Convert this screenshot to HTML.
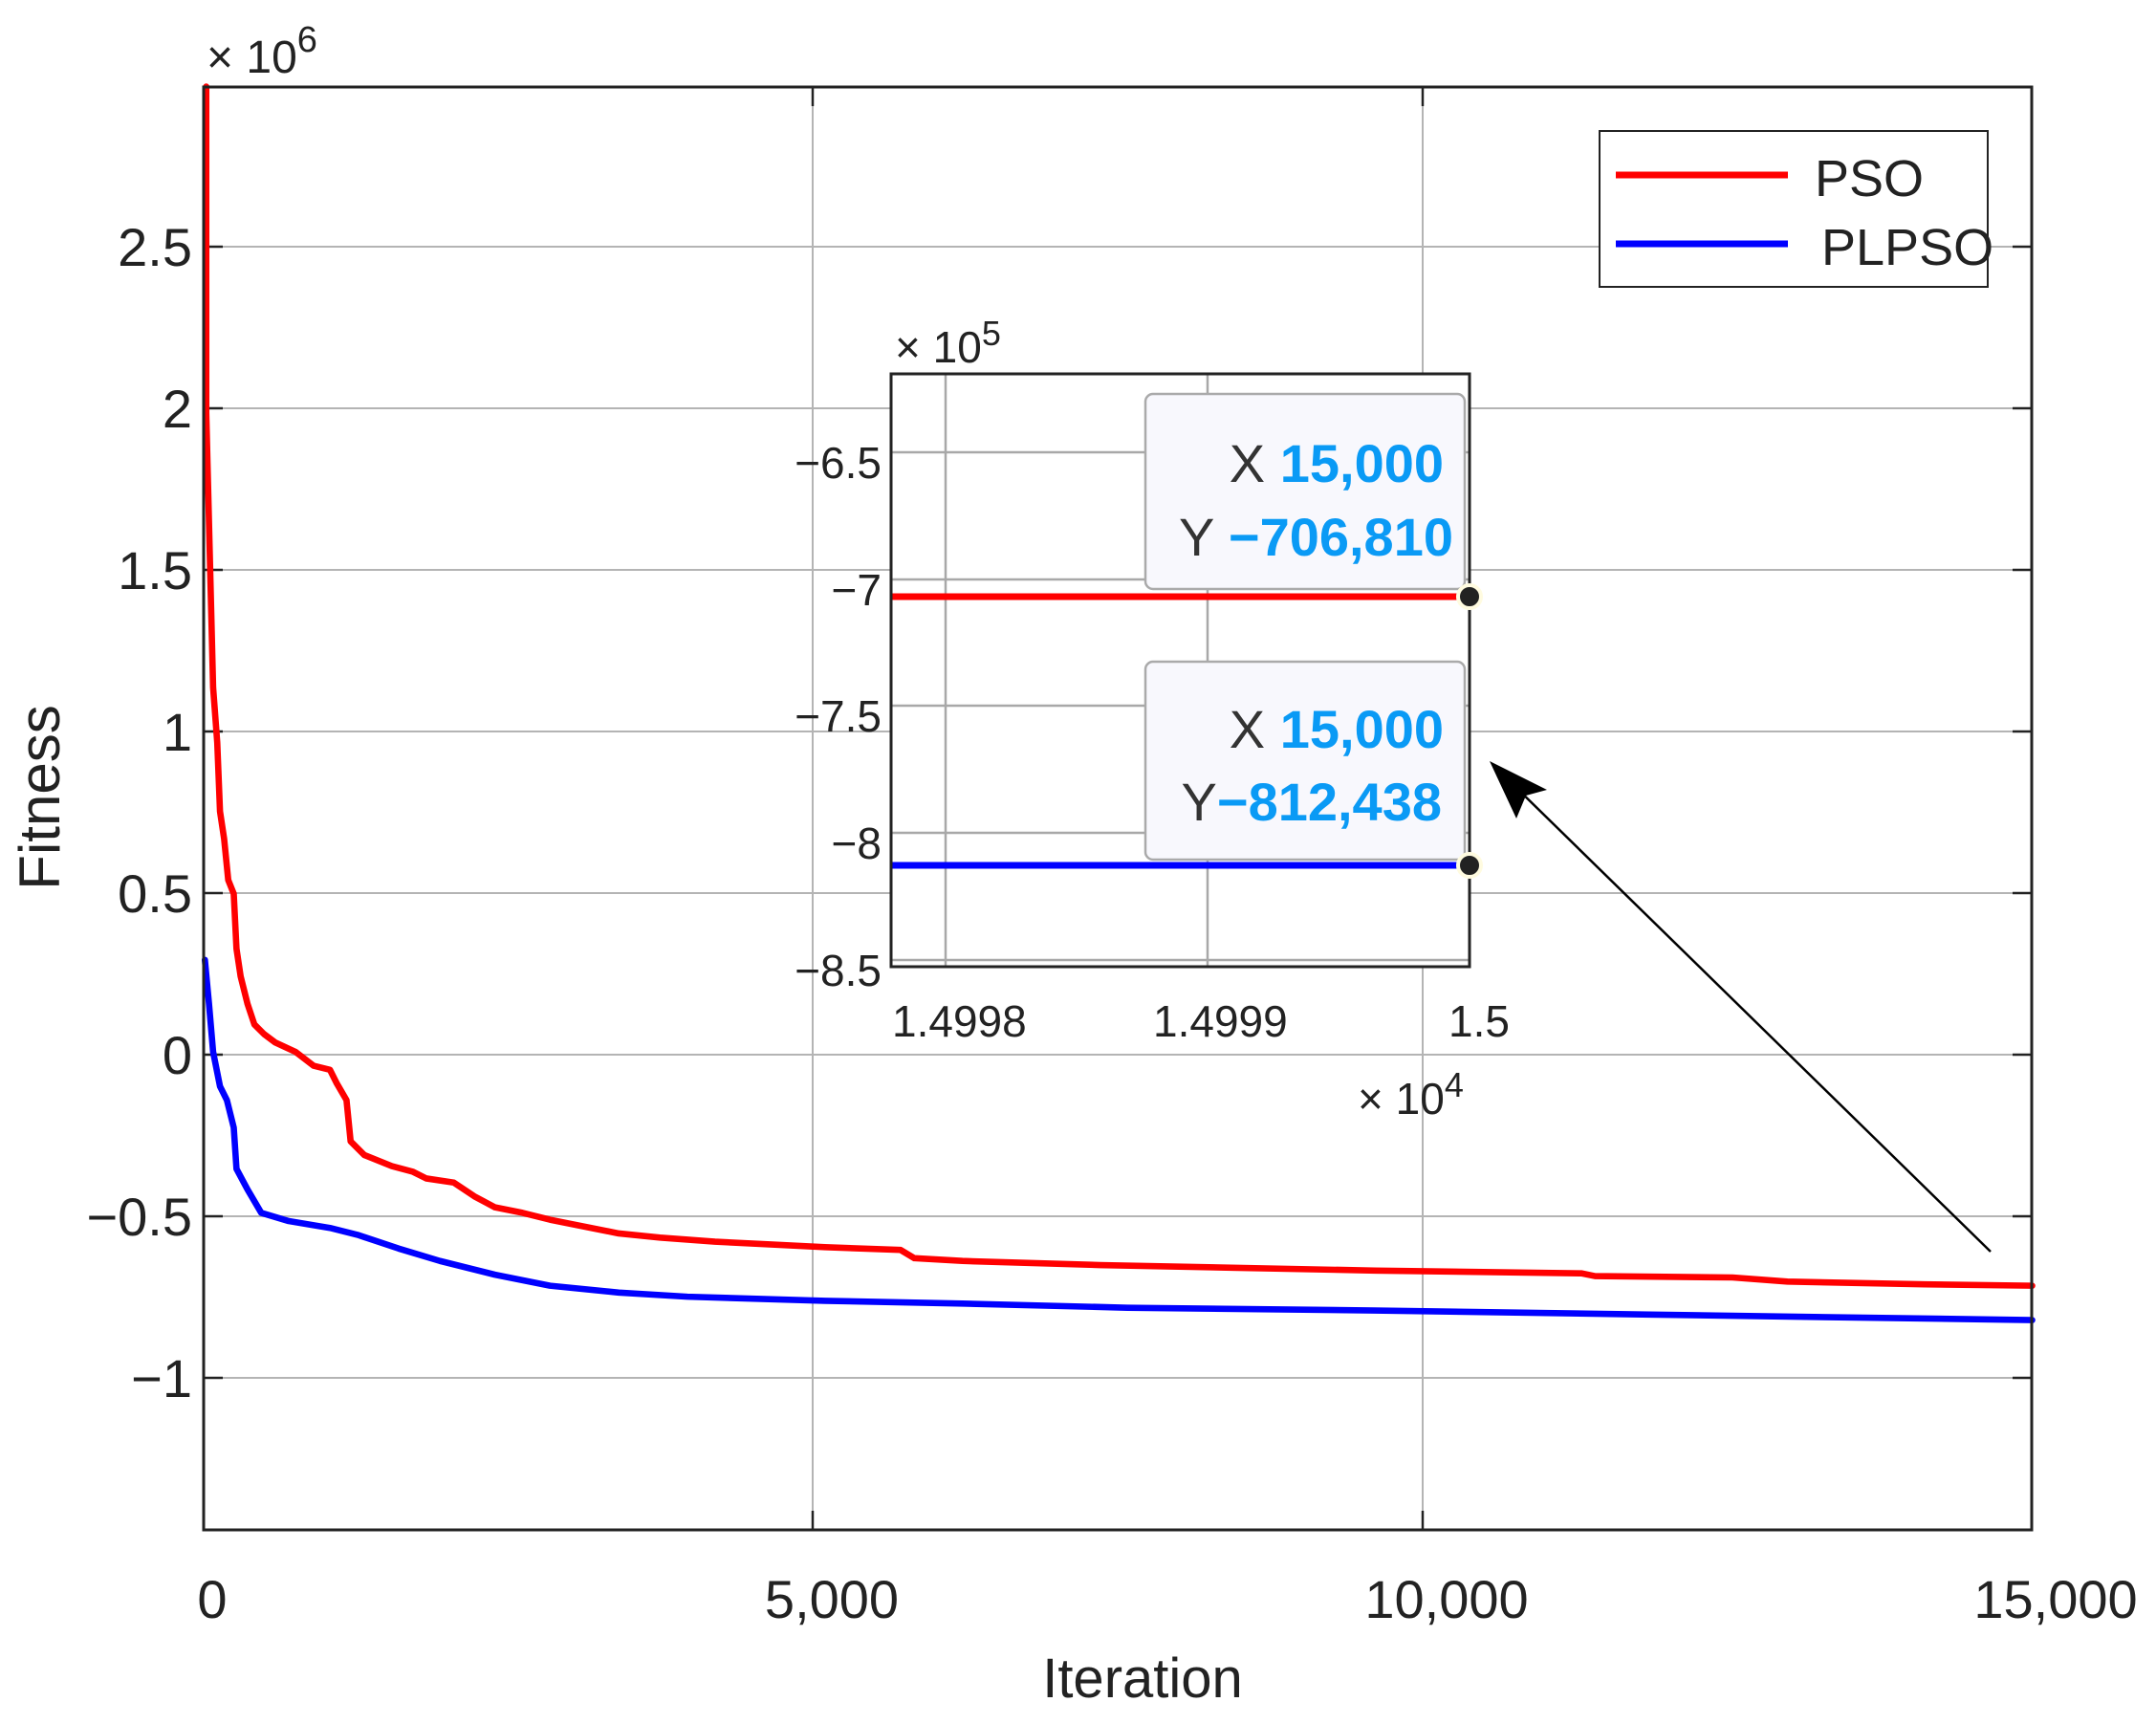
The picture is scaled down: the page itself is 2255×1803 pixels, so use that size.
<!DOCTYPE html>
<html><head><meta charset="utf-8"><style>
html,body{margin:0;padding:0;background:#fff;}
svg{display:block;}
text{font-family:"Liberation Sans",Arial,sans-serif;fill:#222;}
</style></head><body>
<svg width="2255" height="1803" viewBox="0 0 2255 1803" xmlns="http://www.w3.org/2000/svg">
<rect x="0" y="0" width="2255" height="1803" fill="#fff"/>
<g stroke="#b4b4b4" stroke-width="2">
<line x1="850" y1="91" x2="850" y2="1600"/>
<line x1="1488" y1="91" x2="1488" y2="1600"/>
<line x1="213" y1="258" x2="2125" y2="258"/>
<line x1="213" y1="427" x2="2125" y2="427"/>
<line x1="213" y1="596" x2="2125" y2="596"/>
<line x1="213" y1="765" x2="2125" y2="765"/>
<line x1="213" y1="934" x2="2125" y2="934"/>
<line x1="213" y1="1103" x2="2125" y2="1103"/>
<line x1="213" y1="1272" x2="2125" y2="1272"/>
<line x1="213" y1="1441" x2="2125" y2="1441"/>
</g>
<g stroke="#222" stroke-width="2.5">
<line x1="213" y1="258" x2="233" y2="258"/><line x1="2125" y1="258" x2="2105" y2="258"/>
<line x1="213" y1="427" x2="233" y2="427"/><line x1="2125" y1="427" x2="2105" y2="427"/>
<line x1="213" y1="596" x2="233" y2="596"/><line x1="2125" y1="596" x2="2105" y2="596"/>
<line x1="213" y1="765" x2="233" y2="765"/><line x1="2125" y1="765" x2="2105" y2="765"/>
<line x1="213" y1="934" x2="233" y2="934"/><line x1="2125" y1="934" x2="2105" y2="934"/>
<line x1="213" y1="1103" x2="233" y2="1103"/><line x1="2125" y1="1103" x2="2105" y2="1103"/>
<line x1="213" y1="1272" x2="233" y2="1272"/><line x1="2125" y1="1272" x2="2105" y2="1272"/>
<line x1="213" y1="1441" x2="233" y2="1441"/><line x1="2125" y1="1441" x2="2105" y2="1441"/>
<line x1="850" y1="1600" x2="850" y2="1580"/><line x1="850" y1="91" x2="850" y2="111"/>
<line x1="1488" y1="1600" x2="1488" y2="1580"/><line x1="1488" y1="91" x2="1488" y2="111"/>
</g>
<g transform="scale(1.4381)" fill="none" stroke-linejoin="round" stroke-linecap="round" stroke-width="4.6">
<polyline stroke="#0000ff" points="149,698 152,730 155,765 160,790 165,800 170,820 172,850 180,865 190,882 210,888 240,893 260,898 290,908 320,917 360,927 400,935 450,940 500,943 600,946 700,948 820,951 1000,953 1200,956 1478,960"/>
<polyline stroke="#ff0000" points="150,63 150,300 153,420 155,500 158,540 160,590 163,610 166,640 170,650 172,690 175,710 180,730 185,745 192,752 200,758 215,765 228,775 240,778 245,788 252,800 255,830 265,840 285,848 300,852 310,857 330,860 345,870 360,878 380,882 400,887 430,893 450,897 480,900 520,903 560,905 600,907 655,909 665,915 700,917 800,920 900,922 1000,924 1150,926 1160,928 1260,929 1300,932 1400,934 1478,935"/>
</g>
<rect x="213" y="91" width="1912" height="1509" fill="none" stroke="#222" stroke-width="3"/>
<g font-size="56" text-anchor="end">
<text x="201" y="278">2.5</text>
<text x="201" y="447">2</text>
<text x="201" y="616">1.5</text>
<text x="201" y="785">1</text>
<text x="201" y="954">0.5</text>
<text x="201" y="1123">0</text>
<text x="201" y="1292">−0.5</text>
<text x="201" y="1461">−1</text>
</g>
<text x="216" y="76" font-size="48">× 10<tspan font-size="38" dy="-22">6</tspan></text>
<g font-size="56" text-anchor="middle">
<text x="222" y="1692">0</text>
<text x="870" y="1692">5,000</text>
<text x="1513" y="1692">10,000</text>
<text x="2150" y="1692">15,000</text>
<text x="1195" y="1775" font-size="58">Iteration</text>
</g>
<text transform="translate(62,834) rotate(-90)" font-size="60" text-anchor="middle">Fitness</text>
<rect x="1673" y="137" width="406" height="163" fill="#fff" stroke="#222" stroke-width="2"/>
<line x1="1690" y1="183" x2="1870" y2="183" stroke="#ff0000" stroke-width="7"/>
<line x1="1690" y1="255" x2="1870" y2="255" stroke="#0000ff" stroke-width="7"/>
<text x="1898" y="205" font-size="54">PSO</text>
<text x="1905" y="277" font-size="54">PLPSO</text>
<rect x="932" y="391" width="605" height="620" fill="#fff"/>
<g stroke="#a8a8a8" stroke-width="2.5">
<line x1="989" y1="391" x2="989" y2="1011"/>
<line x1="1263" y1="391" x2="1263" y2="1011"/>
<line x1="932" y1="473" x2="1537" y2="473"/>
<line x1="932" y1="606" x2="1537" y2="606"/>
<line x1="932" y1="738" x2="1537" y2="738"/>
<line x1="932" y1="871" x2="1537" y2="871"/>
<line x1="932" y1="1004" x2="1537" y2="1004"/>
</g>
<line x1="932" y1="624" x2="1537" y2="624" stroke="#ff0000" stroke-width="7"/>
<line x1="932" y1="905" x2="1537" y2="905" stroke="#0000ff" stroke-width="7"/>
<rect x="932" y="391" width="605" height="620" fill="none" stroke="#222" stroke-width="3"/>
<g font-size="46" text-anchor="end">
<text x="922" y="500">−6.5</text>
<text x="922" y="633">−7</text>
<text x="922" y="765">−7.5</text>
<text x="922" y="898">−8</text>
<text x="922" y="1031">−8.5</text>
</g>
<g font-size="46">
<text x="933" y="1084">1.4998</text>
<text x="1206" y="1084">1.4999</text>
<text x="1515" y="1084">1.5</text>
<text x="1420" y="1165">× 10<tspan font-size="36" dy="-18">4</tspan></text>
<text x="936" y="379">× 10<tspan font-size="36" dy="-18">5</tspan></text>
</g>
<rect x="1198" y="412" width="334" height="204" rx="8" fill="#f8f8fd" stroke="#aaaaaa" stroke-width="2.5"/>
<rect x="1198" y="692" width="334" height="207" rx="8" fill="#f8f8fd" stroke="#aaaaaa" stroke-width="2.5"/>
<g font-size="56" text-anchor="end">
<text x="1510" y="504"><tspan fill="#333">X </tspan><tspan fill="#0a9af5" font-weight="bold">15,000</tspan></text>
<text x="1520" y="581"><tspan fill="#333">Y </tspan><tspan fill="#0a9af5" font-weight="bold">−706,810</tspan></text>
<text x="1510" y="782"><tspan fill="#333">X </tspan><tspan fill="#0a9af5" font-weight="bold">15,000</tspan></text>
<text x="1508" y="858"><tspan fill="#333">Y</tspan><tspan fill="#0a9af5" font-weight="bold">−812,438</tspan></text>
</g>
<circle cx="1537" cy="624" r="12" fill="#222" stroke="#fffbe0" stroke-width="4"/>
<circle cx="1537" cy="905" r="12" fill="#222" stroke="#fffbe0" stroke-width="4"/>
<line x1="2082" y1="1309" x2="1580" y2="818" stroke="#000" stroke-width="2.5"/>
<polygon points="1558,796 1618,826 1596,832 1586,856" fill="#000"/>
</svg>
</body></html>
